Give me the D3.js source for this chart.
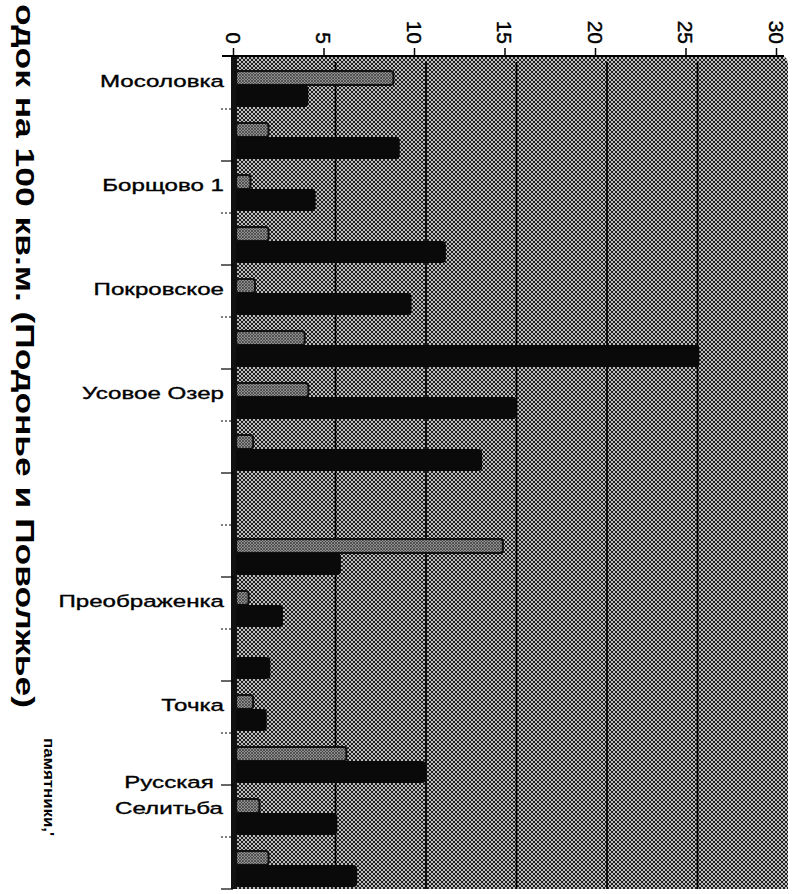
<!DOCTYPE html>
<html><head><meta charset="utf-8">
<script src="https://cdn.jsdelivr.net/npm/d3@7"></script>
<style>
html,body{margin:0;padding:0;background:#fff;}
svg{display:block;}
text{font-family:"Liberation Sans",Arial,sans-serif;fill:#000;}
</style></head>
<body>
<svg id="c" width="798" height="894"></svg>
<script>
// ---- data ----
const categories = ["Мосоловка","","Борщово 1","","Покровское","","Усовое Озер","","","","Преображенка","","Точка","","Русская\nСелитьба",""];
const seriesGrey  = [8.2, 1.3, 0.3, 1.3, 0.55, 3.3, 3.5, 0.45, 0, 14.25, 0.2, 0, 0.45, 5.6, 0.8, 1.3];
const seriesBlack = [3.5, 8.55, 3.9, 11.1, 9.2, 25.1, 15.0, 13.1, 0, 5.3, 2.1, 1.4, 1.2, 10.0, 5.1, 6.2];
const xTicks = [0, 5, 10, 15, 20, 25, 30];
const titleText = "одок на 100 кв.м. (Подонье и Поволжье)";
const noteText = "памятники,'";

// ---- layout ----
const svg = d3.select("#c");
const plotTop = 56, plotBottom = 889, wallX = 231, wallW = 6, depth = 12;
const xAxisScale = d3.scaleLinear().domain([0, 30]).range([233, 776]);
const xBar = d3.scaleLinear().domain([0, 30]).range([233 + depth, 776 + depth]);
const y = d3.scaleBand().domain(d3.range(categories.length)).range([57, 889]).padding(0);

const defs = svg.append("defs");
const pat = defs.append("pattern").attr("id","hatch").attr("width",4).attr("height",4)
  .attr("patternUnits","userSpaceOnUse");
pat.append("rect").attr("width",4).attr("height",4).attr("fill","#bdbdbd");
pat.append("path").attr("d","M0,0L4,4M4,0L0,4").attr("stroke","#151515").attr("stroke-width",0.95);
const pat2 = defs.append("pattern").attr("id","hatchBar").attr("width",3).attr("height",3)
  .attr("patternUnits","userSpaceOnUse");
pat2.append("rect").attr("width",3).attr("height",3).attr("fill","#8f8f8f");
pat2.append("path").attr("d","M0,0L3,3M3,0L0,3").attr("stroke","#3a3a3a").attr("stroke-width",0.7);

// plot area
const pr = xBar(30);
svg.append("path")
  .attr("d", `M${wallX},${plotTop} L${pr-7},${plotTop} Q${pr},${plotTop} ${pr},${plotTop+9} L${pr},${plotBottom} L${wallX},${plotBottom} Z`)
  .attr("fill","url(#hatch)");

// gridlines
svg.append("g").selectAll("line").data(xTicks.filter(v => v > 0 && v < 30)).join("line")
  .attr("x1", d => xBar(d)).attr("x2", d => xBar(d))
  .attr("y1", plotTop + 6).attr("y2", plotBottom)
  .attr("stroke","#000").attr("stroke-width",1.7);

// left wall
svg.append("rect").attr("x", wallX).attr("y", plotTop).attr("width", wallW).attr("height", plotBottom - plotTop)
  .attr("fill","#111");

// bars
const gB = svg.append("g");
const bx0 = wallX + wallW - 1;
categories.forEach((c, i) => {
  const b = y(i);
  if (seriesGrey[i] > 0) {
    gB.append("rect").attr("x", bx0).attr("y", b + 14)
      .attr("width", Math.max(0, xBar(seriesGrey[i]) - bx0)).attr("height", 14)
      .attr("rx", 3).attr("fill","url(#hatchBar)").attr("stroke","#111").attr("stroke-width",2);
  }
  if (seriesBlack[i] > 0) {
    gB.append("rect").attr("x", bx0).attr("y", b + 28)
      .attr("width", Math.max(0, xBar(seriesBlack[i]) - bx0)).attr("height", 22)
      .attr("rx", 4).attr("fill","#0a0a0a");
  }
});

// top axis
const ax = svg.append("g").attr("transform", `translate(0,${plotTop})`)
  .call(d3.axisTop(xAxisScale).tickValues(xTicks).tickSize(8).tickSizeOuter(0));
ax.select(".domain").remove();
ax.selectAll(".tick line").attr("stroke","#000").attr("stroke-width",1.5);
ax.selectAll(".tick text")
  .attr("transform","rotate(90)").attr("x", -12).attr("y", 0).attr("dy","0.36em")
  .attr("text-anchor","end").style("font-size","21px").style("font-family","Liberation Sans, Arial, sans-serif")
  .attr("stroke","#000").attr("stroke-width",0.4);
svg.append("line").attr("x1", 222).attr("x2", pr - 4).attr("y1", plotTop).attr("y2", plotTop)
  .attr("stroke","#000").attr("stroke-width",1.8);

// left ticks
svg.append("g").selectAll("line").data(d3.range(1, categories.length + 1)).join("line")
  .attr("x1", 221).attr("x2", wallX + 2)
  .attr("y1", d => 57 + d * y.bandwidth()).attr("y2", d => 57 + d * y.bandwidth())
  .attr("stroke","#000").attr("stroke-width",1.2)
  .attr("stroke-dasharray", d => d % 2 ? "2,2" : null);

// category labels
const sx = 1.42;
const gL = svg.append("g");
categories.forEach((c, i) => {
  if (!c) return;
  const lines = c.split("\n");
  const cy = y(i) + y.bandwidth() / 2;
  if (lines.length === 1) {
    gL.append("text").attr("transform", `translate(224,${cy - 2}) scale(${sx},1)`)
      .attr("text-anchor","end").attr("dy","0.36em").style("font-size","17px")
      .attr("stroke","#000").attr("stroke-width",0.35).text(c);
  } else {
    const g = gL.append("g");
    const ts = lines.map((l, k) => g.append("text").attr("text-anchor","middle")
      .attr("dy","0.36em").style("font-size","17px").attr("stroke","#000").attr("stroke-width",0.35).text(l));
    const wmax = d3.max(ts, t => t.node().getComputedTextLength()) * sx;
    const cx = 223 - wmax / 2;
    ts.forEach((t, k) => t.attr("transform", `translate(${cx},${cy - 29 + k * 26}) scale(${sx},1)`));
  }
});

// title (rotated)
svg.append("text").attr("transform","translate(16,4) rotate(90)")
  .attr("text-anchor","start").style("font-size","26px").style("font-weight","bold")
  .attr("textLength", 704).attr("lengthAdjust","spacingAndGlyphs").text(titleText);

svg.append("text").attr("transform","translate(44,738) rotate(90)")
  .attr("text-anchor","start").style("font-size","15px").style("font-weight","bold")
  .attr("textLength", 98).attr("lengthAdjust","spacingAndGlyphs").text(noteText);
</script>
</body></html>
